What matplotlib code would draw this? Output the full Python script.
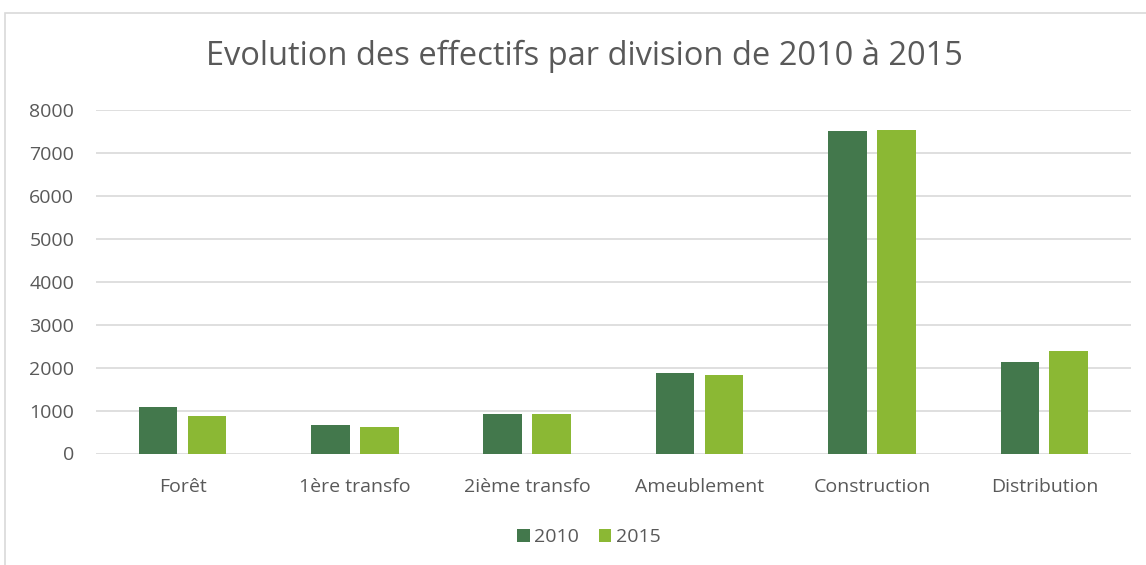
import matplotlib.pyplot as plt
import numpy as np
from matplotlib.patches import Rectangle

plt.rcParams['font.family'] = ['Open Sans', 'DejaVu Sans']

categories = ["Forêt", "1ère transfo", "2ième transfo", "Ameublement", "Construction", "Distribution"]
values_2010 = [1080, 670, 920, 1875, 7510, 2130]
values_2015 = [885, 610, 920, 1835, 7535, 2390]
series_labels = ["2010", "2015"]
yticks = [0, 1000, 2000, 3000, 4000, 5000, 6000, 7000, 8000]

c2010 = "#43784C"
c2015 = "#8BB834"
txt = "#595959"

W, H = 1146, 565
fig = plt.figure(figsize=(W / 100, H / 100), dpi=100)
ax = fig.add_axes([96.4 / W, 1 - 453.5 / H, (1130.5 - 96.4) / W, (453.5 - 110) / H])

# outer chart frame (cut off at right and bottom)
fig.patches.append(Rectangle((5 / W, -0.01), 1.02, 1 - 13 / H + 0.01, transform=fig.transFigure,
                             fill=False, edgecolor="#D9D9D9", linewidth=1.2))

x = np.arange(len(categories))
bw = 0.224
gap = 0.060
ax.bar(x - (bw + gap) / 2, values_2010, bw, color=c2010, label=series_labels[0], zorder=3)
ax.bar(x + (bw + gap) / 2, values_2015, bw, color=c2015, label=series_labels[1], zorder=3)

ax.set_xlim(-0.5, len(categories) - 0.5)
ax.set_ylim(0, 8000)
ax.set_yticks(yticks)
ax.set_yticklabels([str(v) for v in yticks])
ax.set_xticks(x)
ax.set_xticklabels(categories)
ax.yaxis.grid(True, color="#D9D9D9", linewidth=1.2, zorder=0)
ax.set_axisbelow(True)
for s in ax.spines.values():
    s.set_visible(False)
ax.tick_params(axis="both", length=0, colors=txt, labelsize=14)
ax.tick_params(axis="x", pad=17.5)
ax.tick_params(axis="y", pad=16)
for lbl in ax.get_xticklabels() + ax.get_yticklabels():
    lbl.set_color(txt)

fig.text(584.5 / W, 1 - 56 / H, "Evolution des effectifs par division de 2010 à 2015",
         ha="center", va="center", fontsize=23.5, color=txt)

leg = fig.legend(loc="center", bbox_to_anchor=(589 / W, 1 - 537 / H), ncol=2, frameon=False,
                 fontsize=14, handlelength=0.65, handleheight=0.65, handletextpad=0.25,
                 columnspacing=1.0)
for t in leg.get_texts():
    t.set_color(txt)

fig.savefig("out.png", dpi=100)
